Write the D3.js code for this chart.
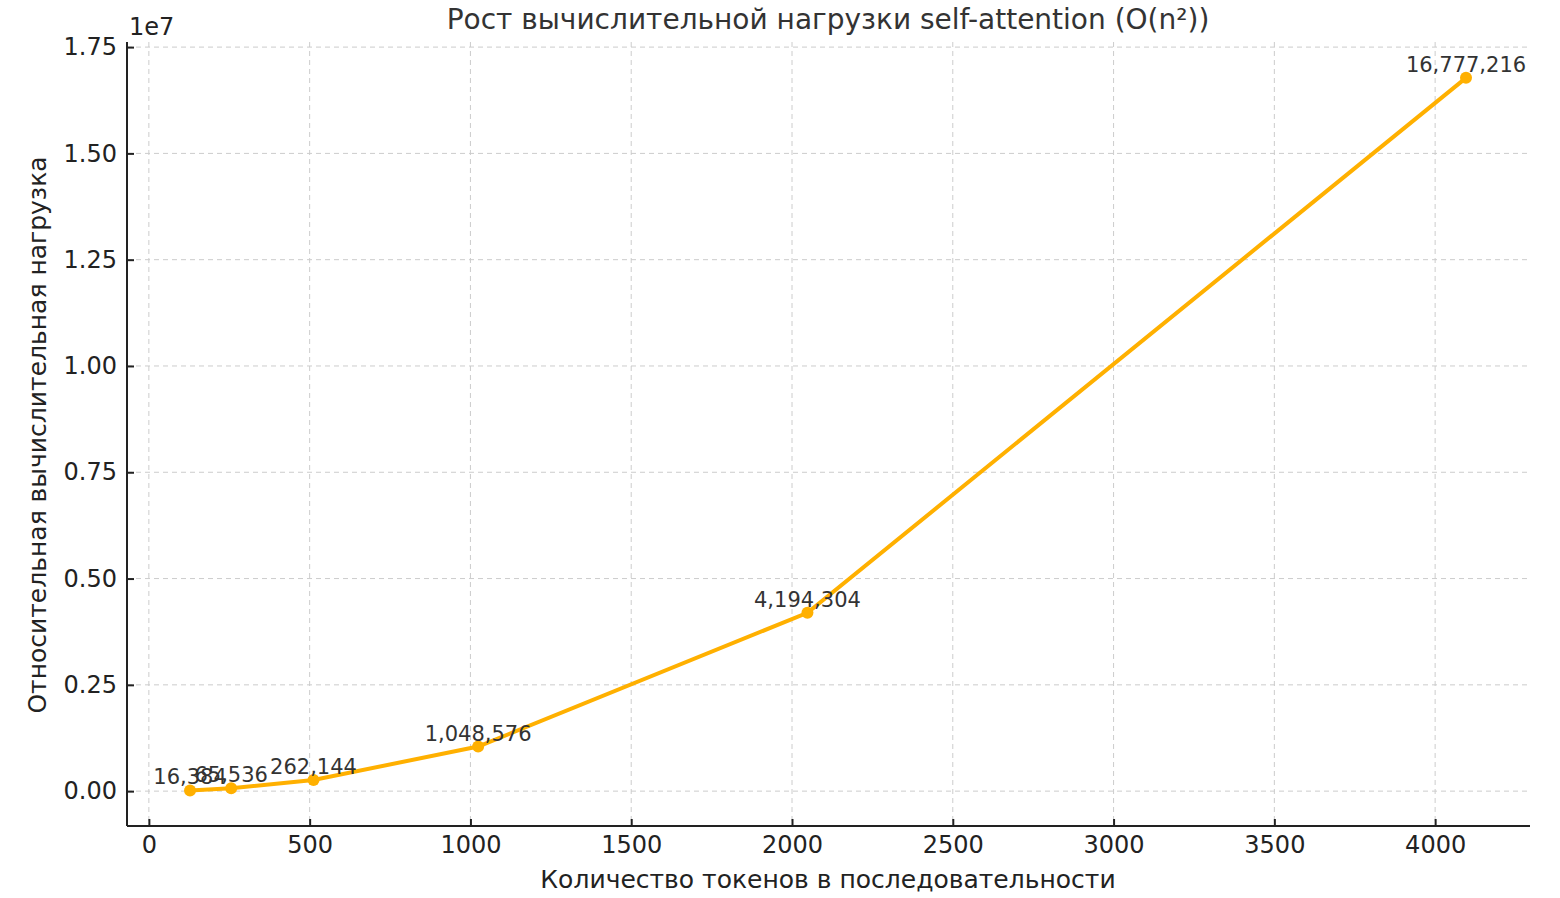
<!DOCTYPE html>
<html><head><meta charset="utf-8">
<script src="https://cdn.jsdelivr.net/npm/d3@7"></script>
<style>
body{margin:0;background:#fff;}
svg text{font-family:"DejaVu Sans",sans-serif;}
.grid line{stroke:#ccc;stroke-dasharray:5,4;}
.axis text{font-size:24px;fill:#222;}
.axis path,.axis line{stroke:#222;stroke-width:2;}
</style></head>
<body><svg id="chart" width="1560" height="898" font-family="DejaVu Sans"></svg>
<script>
// data: tokens vs n^2
const tokens = [128, 256, 512, 1024, 2048, 4096];
const load = [16384, 65536, 262144, 1048576, 4194304, 16777216];
const labels = ["16,384", "65,536", "262,144", "1,048,576", "4,194,304", "16,777,216"];
const xTicks = [0, 500, 1000, 1500, 2000, 2500, 3000, 3500, 4000];
const yTicks = [0, 0.25e7, 0.5e7, 0.75e7, 1e7, 1.25e7, 1.5e7, 1.75e7];

let margin = {left: 127, right: 30, top: 42, bottom: 72};
let width = 1560, height = 898;
let svg = d3.select("#chart");

let x = d3.scaleLinear().domain([-68, 4295]).range([margin.left, width - margin.right]);
let y = d3.scaleLinear().domain([-0.082e7, 1.762e7]).range([height - margin.bottom, margin.top]);

// grid
svg.append("g").attr("class", "grid")
  .selectAll("line.v").data(xTicks).join("line")
  .attr("x1", d => x(d)).attr("x2", d => x(d))
  .attr("y1", margin.top).attr("y2", height - margin.bottom);
svg.append("g").attr("class", "grid")
  .selectAll("line.h").data(yTicks).join("line")
  .attr("y1", d => y(d)).attr("y2", d => y(d))
  .attr("x1", margin.left).attr("x2", width - margin.right);

// axes (ticks inward)
let xAxis = svg.append("g").attr("class", "axis")
  .attr("transform", "translate(0," + (height - margin.bottom) + ")")
  .call(d3.axisBottom(x).tickValues(xTicks).tickSize(-7).tickPadding(10).tickSizeOuter(0)
    .tickFormat(d => String(d)));
xAxis.select(".domain").attr("d", `M${margin.left},0H${width - margin.right}`);

let yAxis = svg.append("g").attr("class", "axis")
  .attr("transform", "translate(" + margin.left + ",0)")
  .call(d3.axisLeft(y).tickValues(yTicks).tickSize(-7).tickPadding(10).tickSizeOuter(0)
    .tickFormat(d => (d / 1e7).toFixed(2)));
yAxis.select(".domain").attr("d", `M0,${margin.top}V${height - margin.bottom}`);
svg.selectAll(".axis text").attr("font-family", "DejaVu Sans");

svg.append("text").attr("x", margin.left + 2).attr("y", 35)
  .attr("font-size", 24).attr("fill", "#222").text("1e7");

// line + points
let pts = tokens.map((t, i) => ({x: t, y: load[i], label: labels[i]}));
svg.append("path").datum(pts)
  .attr("fill", "none").attr("stroke", "#FFB000").attr("stroke-width", 4)
  .attr("d", d3.line().x(d => x(d.x)).y(d => y(d.y)));
svg.selectAll("circle.pt").data(pts).join("circle")
  .attr("cx", d => x(d.x)).attr("cy", d => y(d.y)).attr("r", 6).attr("fill", "#FFB000");
svg.selectAll("text.lbl").data(pts).join("text")
  .attr("x", d => x(d.x)).attr("y", d => y(d.y) - 6)
  .attr("text-anchor", "middle").attr("font-size", 21).attr("fill", "#333")
  .text(d => d.label);

// titles
svg.append("text").attr("x", 828).attr("y", 29).attr("text-anchor", "middle")
  .attr("font-size", 28).attr("fill", "#333").text("Рост вычислительной нагрузки self-attention (O(n²))");
svg.append("text").attr("x", 828).attr("y", 888).attr("text-anchor", "middle")
  .attr("font-size", 25).attr("fill", "#222").text("Количество токенов в последовательности");
svg.append("text").attr("transform", "translate(46,435) rotate(-90)").attr("text-anchor", "middle")
  .attr("font-size", 25).attr("fill", "#222").text("Относительная вычислительная нагрузка");
</script></body></html>
